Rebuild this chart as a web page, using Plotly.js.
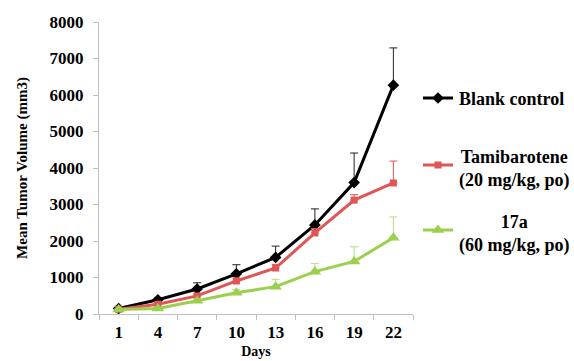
<!DOCTYPE html>
<html>
<head>
<meta charset="utf-8">
<script src="https://cdn.plot.ly/plotly-3.0.1.min.js"></script>
<style>html,body{margin:0;padding:0;background:#fff;}#chart{width:574px;height:361px;}</style>
</head>
<body>
<div id="chart"></div>
<script>
const days = ["1", "4", "7", "10", "13", "16", "19", "22"];
const blankMean = [150, 390, 685, 1100, 1550, 2440, 3600, 6270];
const blankErr  = [40, 60, 170, 250, 310, 440, 810, 1020];
const tamiMean  = [130, 270, 495, 905, 1260, 2220, 3120, 3590];
const tamiErr   = [20, 40, 60, 80, 100, 120, 150, 600];
const c17aMean  = [120, 150, 365, 580, 750, 1160, 1440, 2090];
const c17aErr   = [20, 30, 60, 90, 200, 220, 400, 570];
const seriesNames = ["Blank control", "Tamibarotene<br>(20 mg/kg, po)", "17a<br>(60 mg/kg, po)"];
const zeros = days.map(() => 0);

const FONT = "Liberation Serif";
const BLACK = "#000000", RED = "#e05555", GREEN = "#9bcf4e";

function series(name, y, err, color, symbol, size, legendId, errColor) {
  return {
    type: "scatter", mode: "lines+markers", name: name,
    x: days, y: y,
    line: {color: color, width: 3},
    marker: {color: color, symbol: symbol, size: size},
    error_y: {type: "data", symmetric: false, array: err, arrayminus: zeros,
              color: errColor, thickness: 1, width: 4},
    legend: legendId
  };
}

const data = [
  series(seriesNames[0], blankMean, blankErr, BLACK, "diamond", 9, "legend", "#222"),
  series(seriesNames[1], tamiMean, tamiErr, RED, "square", 7, "legend2", RED),
  series(seriesNames[2], c17aMean, c17aErr, GREEN, "triangle-up", 11, "legend3", "#b5dc80")
];

// plot area in px: x 99..413, y 22..314
const px = v => (v - 99) / 314;
const py = v => 1 - (v - 22) / 292;

// legends carry only the line/marker samples; their text is drawn as annotations
const legBase = {font: {family: FONT, size: 1, color: "rgba(0,0,0,0)"}, xanchor: "left", yanchor: "middle",
                 bgcolor: "rgba(0,0,0,0)", borderwidth: 0, tracegroupgap: 0};
const LX = px(418);
const legFont = {family: FONT, size: 18, color: "#000", weight: "bold"};

const layout = {
  width: 574, height: 361,
  margin: {l: 99, r: 161, t: 22, b: 47},
  paper_bgcolor: "#fff", plot_bgcolor: "#fff",
  font: {family: FONT, color: "#000"},
  showlegend: true,
  legend: Object.assign({}, legBase, {x: LX, y: py(98)}),
  legend2: Object.assign({}, legBase, {x: LX, y: py(165)}),
  legend3: Object.assign({}, legBase, {x: LX, y: py(230)}),
  annotations: [
    {text: seriesNames[0], xref: "paper", yref: "paper", x: px(457), y: py(99), xanchor: "left", yanchor: "middle", showarrow: false, font: legFont},
    {text: seriesNames[1], xref: "paper", yref: "paper", x: px(514), y: py(168.5), xanchor: "center", yanchor: "middle", align: "center", showarrow: false, font: legFont},
    {text: seriesNames[2], xref: "paper", yref: "paper", x: px(514), y: py(234), xanchor: "center", yanchor: "middle", align: "center", showarrow: false, font: legFont}
  ],
  xaxis: {
    type: "category", range: [-0.5, 7.5], tickson: "boundaries",
    ticks: "outside", ticklen: 5, tickcolor: "#bfbfbf",
    showline: true, linecolor: "#bfbfbf", linewidth: 1,
    showgrid: false, zeroline: false, ticklabelstandoff: 3,
    tickfont: {family: FONT, size: 17, color: "#000", weight: "bold"},
    title: {text: "Days", font: {family: FONT, size: 14, color: "#000", weight: "bold"}, standoff: 4}
  },
  yaxis: {
    range: [0, 8000], dtick: 1000,
    ticks: "outside", ticklen: 5, tickcolor: "#bfbfbf",
    showline: true, linecolor: "#bfbfbf", linewidth: 1,
    showgrid: false, zeroline: false, ticklabelstandoff: 6,
    tickfont: {family: FONT, size: 17, color: "#000", weight: "bold"},
    title: {text: "Mean Tumor Volume (mm3)", font: {family: FONT, size: 15, color: "#000", weight: "bold"}, standoff: 18}
  }
};

Plotly.newPlot("chart", data, layout, {displayModeBar: false, staticPlot: true});
</script>
</body>
</html>
